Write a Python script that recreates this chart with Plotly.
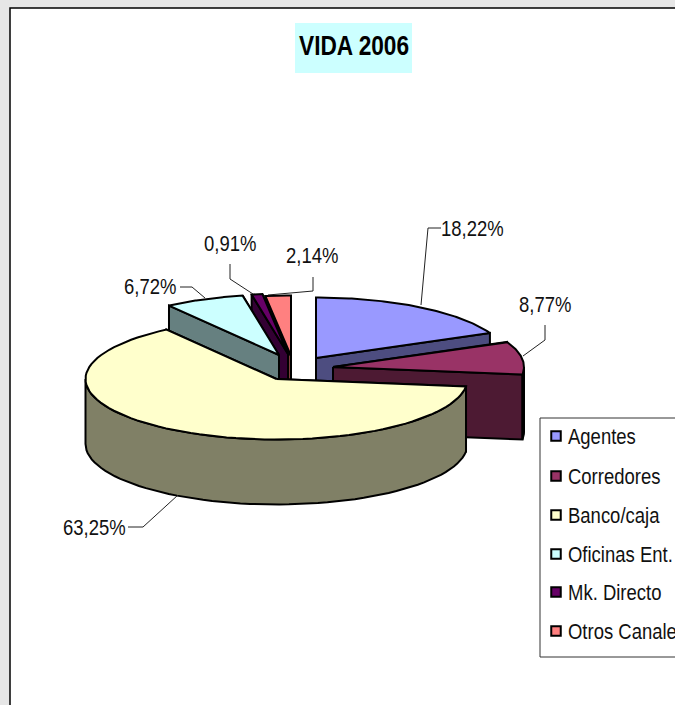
import numpy as np
import plotly.graph_objects as go

# ---- data ----
categories = ["Agentes", "Corredores", "Banco/caja", "Oficinas Ent.", "Mk. Directo", "Otros Canales"]
values = [18.22, 8.77, 63.25, 6.72, 0.91, 2.14]
title_text = "VIDA 2006"

# ---- styles ----
top_colors = ["#9999FF", "#993366", "#FFFFCC", "#CCFFFF", "#660066", "#FF8080"]
side_colors = ["#4D4D80", "#4D1A33", "#808066", "#668080", "#330033", "#804040"]

# ---- layout of the drawing (page pixels) ----
FONT = "Liberation Sans, Arial, sans-serif"
RX, RY, DEPTH = 191, 60.5, 65
tips = [(316, 358), (333, 367), (276.5, 379), (279, 355), (288, 354), (291, 356)]
draw_order = [5, 4, 3, 0, 1, 2]
label_pos = [(441, 228), (519, 304), (63, 527), (124, 286), (204, 243), (286, 255)]
leaders = [
    [(421, 305), (428, 228), (441, 228)],
    [(523, 356), (545, 340), (545, 325)],
    [(128, 527), (143, 527), (178, 495)],
    [(180, 287), (192, 287), (205, 298)],
    [(230, 264), (230, 279), (253, 294)],
    [(313, 277), (313, 291), (268, 295)],
]
legend_rows = [436, 476, 515, 554, 592, 631]

total = sum(values)
edges = np.concatenate([[0], np.cumsum(values)]) / total * 360.0


def point(i, deg):
    r = np.radians(deg)
    return tips[i][0] + RX * np.sin(r), tips[i][1] - RY * np.cos(r)


def poly(xs, ys, fill):
    return go.Scatter(
        x=list(xs) + [xs[0]], y=list(ys) + [ys[0]], mode="lines", fill="toself",
        fillcolor=fill, line=dict(color="black", width=2), hoverinfo="skip", showlegend=False,
    )


fig = go.Figure()
for i in draw_order:
    a0, a1 = edges[i], edges[i + 1]
    tx, ty = tips[i]
    # radial side faces, the one further back first
    for a in sorted((a0, a1), key=lambda d: point(i, d)[1]):
        px, py = point(i, a)
        fig.add_trace(poly([tx, px, px, tx], [ty, py, py + DEPTH, ty + DEPTH], side_colors[i]))
    # outer rim (front-facing part only)
    f0, f1 = max(a0, 90), min(a1, 270)
    if f1 > f0:
        ang = np.linspace(f0, f1, 60)
        rx, ry = point(i, ang)
        fig.add_trace(poly(np.r_[rx, rx[::-1]], np.r_[ry, ry[::-1] + DEPTH], side_colors[i]))
    # top face
    ang = np.linspace(a0, a1, 80)
    ex, ey = point(i, ang)
    fig.add_trace(poly(np.r_[tx, ex], np.r_[ty, ey], top_colors[i]))

# leader lines
for pts in leaders:
    fig.add_trace(go.Scatter(x=[p[0] for p in pts], y=[p[1] for p in pts], mode="lines",
                             line=dict(color="#222222", width=1), hoverinfo="skip", showlegend=False))

# legend swatches
fig.add_trace(go.Scatter(
    x=[556] * len(categories), y=legend_rows, mode="markers",
    marker=dict(symbol="square", size=9.5, color=top_colors, line=dict(color="black", width=2)),
    hoverinfo="skip", showlegend=False,
))

ann = []
for i, v in enumerate(values):
    ann.append(dict(x=label_pos[i][0], y=label_pos[i][1], text=f"{v:.2f}".replace(".", ",") + "%",
                    showarrow=False, xanchor="left", yanchor="middle",
                    font=dict(family=FONT, size=22, color="#111111")))
for name, y in zip(categories, legend_rows):
    ann.append(dict(x=568, y=y, text=name, showarrow=False, xanchor="left", yanchor="middle",
                    font=dict(family=FONT, size=22, color="#111111")))
ann.append(dict(x=299, y=46, text=title_text, showarrow=False, xanchor="left", yanchor="middle",
                font=dict(family=FONT, size=27, color="black", weight="bold")))

shapes = [
    dict(type="rect", layer="below", x0=10, y0=8, x1=690, y1=720, fillcolor="white",
         line=dict(color="black", width=1.5)),
    dict(type="rect", layer="below", x0=295, y0=23, x1=412, y1=73, fillcolor="#CCFFFF", line=dict(width=0)),
    dict(type="rect", layer="below", x0=540, y0=418, x1=690, y1=657, fillcolor="white",
         line=dict(color="#333333", width=1)),
]

fig.update_layout(
    width=675, height=705, autosize=False,
    margin=dict(l=0, r=0, t=0, b=0),
    paper_bgcolor="#E6E6E6", plot_bgcolor="rgba(0,0,0,0)",
    showlegend=False, annotations=ann, shapes=shapes,
    xaxis=dict(range=[0, 675], visible=False, fixedrange=True),
    yaxis=dict(range=[705, 0], visible=False, fixedrange=True),
)

# Remove the page margin and condense the text to the reference's narrow glyphs.
post = """
document.body.style.margin = '0';
document.documentElement.style.overflow = 'hidden';
document.querySelectorAll('.annotation-text').forEach(function (t) {
  var box = t.getBBox();
  var len = t.getComputedTextLength();
  t.setAttribute('text-anchor', 'start');
  t.setAttribute('x', box.x - 2);
  t.setAttribute('textLength', len * 0.84);
  t.setAttribute('lengthAdjust', 'spacingAndGlyphs');
});
"""
fig.write_html("out.html", config=dict(displayModeBar=False), post_script=post)
